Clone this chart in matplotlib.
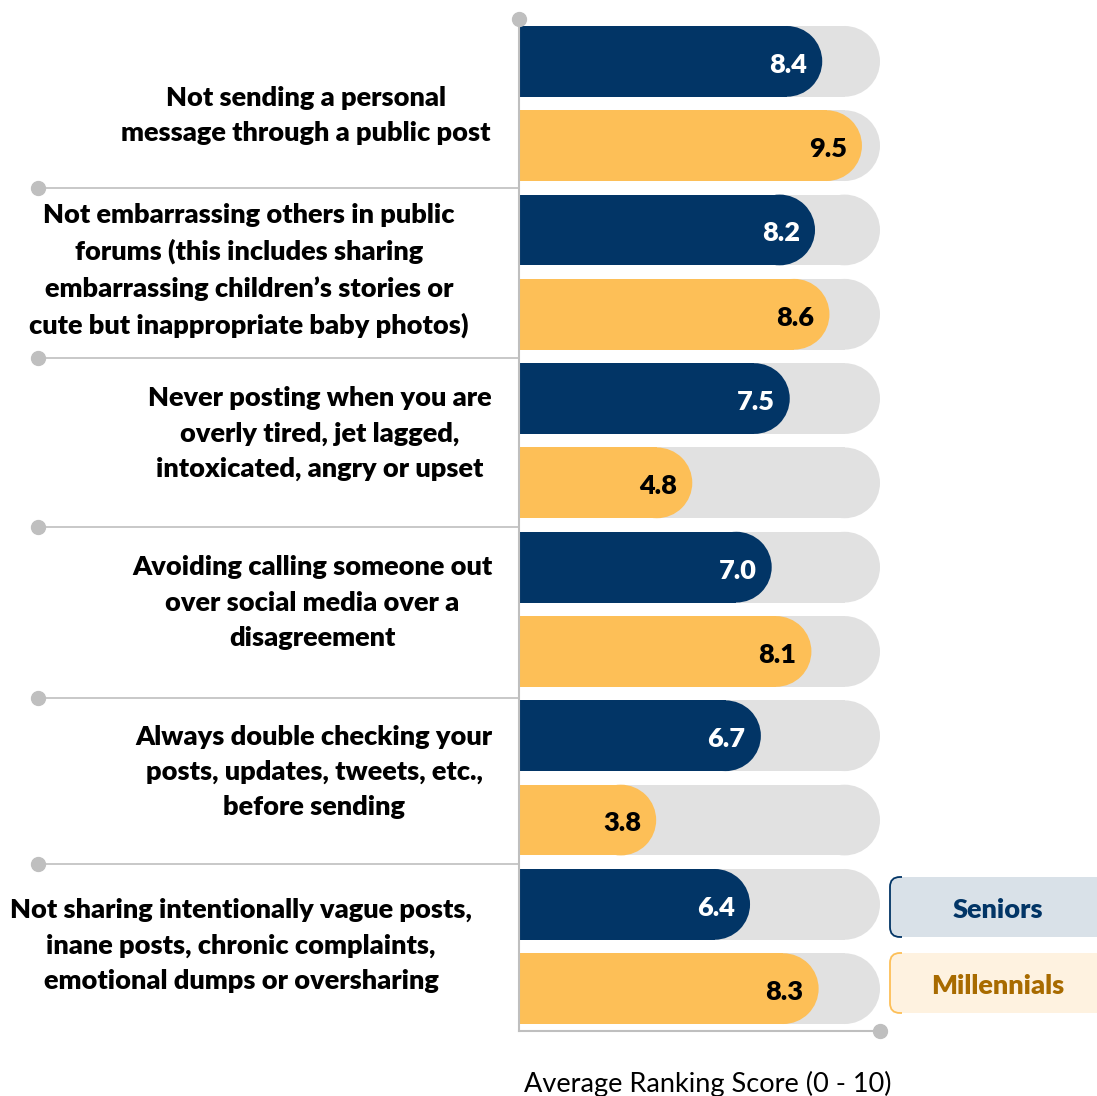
import matplotlib
matplotlib.use("Agg")
import matplotlib.pyplot as plt
from matplotlib.patches import Ellipse, FancyBboxPatch, Rectangle

# ---------------- data ----------------
categories = [
    "Not sending a personal\nmessage through a public post",
    "Not embarrassing others in public\nforums (this includes sharing\nembarrassing children\u2019s stories or\ncute but inappropriate baby photos)",
    "Never posting when you are\noverly tired, jet lagged,\nintoxicated, angry or upset",
    "Avoiding calling someone out\nover social media over a\ndisagreement",
    "Always double checking your\nposts, updates, tweets, etc.,\nbefore sending",
    "Not sharing intentionally vague posts,\ninane posts, chronic complaints,\nemotional dumps or oversharing",
]
seniors = [8.4, 8.2, 7.5, 7.0, 6.7, 6.4]
millennials = [9.5, 8.6, 4.8, 8.1, 3.8, 8.3]
series_names = ["Seniors", "Millennials"]
x_label = "Average Ranking Score (0 - 10)"
x_max = 10

# ---------------- style / layout ----------------
NAVY = "#023566"
YELLOW = "#FDBF57"
TRACK = "#E1E1E1"
LINE = "#BFBFBF"
FONT = "Lato"
FS = 19.5
WEIGHT = "heavy"

W, H = 1097, 1096
fig = plt.figure(figsize=(W / 100, H / 100), dpi=100)

ax_left_px, ax_right_px = 519, 880
ax_top_px, ax_bot_px = 19.2, 1030.8
ax = fig.add_axes([ax_left_px / W, 1 - ax_bot_px / H,
                   (ax_right_px - ax_left_px) / W, (ax_bot_px - ax_top_px) / H])
ax.set_xlim(0, x_max)
ax.set_ylim(11.5, -0.5)
ax.axis("off")

bar_h = 0.839
px_per_x = (ax_right_px - ax_left_px) / x_max
px_per_y = (ax_bot_px - ax_top_px) / 12.0
rx = (bar_h / 2) * px_per_y / px_per_x  # cap radius in x units


def rounded_bar(y, val, color, z):
    ax.barh([y], [val - rx], height=bar_h, left=0, color=color, zorder=z, linewidth=0)
    ax.add_patch(Ellipse((val - rx, y), 2 * rx, bar_h, facecolor=color,
                         edgecolor="none", zorder=z))


label_x_px = [306, 249, 320, 312, 314, 241]
label_y_off = [0.14, -0.02, -0.08, -0.08, -0.07, -0.01]
sep_y_off = [0.0, 0.02, 0.02, 0.05, 0.02]

for i in range(len(categories)):
    ys = 2 * i
    ym = 2 * i + 1
    for y, v, c, tc in [(ys, seniors[i], NAVY, "white"), (ym, millennials[i], YELLOW, "black")]:
        rounded_bar(y, x_max, TRACK, 1)
        rounded_bar(y, v, c, 2)
        ax.text(v - 0.95, y + 0.04, f"{v:.1f}", ha="center", va="center",
                color=tc, fontsize=FS, fontweight=WEIGHT, family=FONT, zorder=3)
    # category label
    lx = (label_x_px[i] - ax_left_px) / px_per_x
    ax.text(lx, 2 * i + 0.5 + label_y_off[i], categories[i], ha="center", va="center",
            fontsize=FS, fontweight=WEIGHT, family=FONT, linespacing=1.56,
            clip_on=False, zorder=3)

# separators with dots
dot_x = (38 - ax_left_px) / px_per_x
for k in range(1, len(categories)):
    yy = 2 * k - 0.5 + sep_y_off[k - 1]
    ax.plot([dot_x, 0], [yy, yy], color=LINE, lw=1.2, clip_on=False, zorder=0)
    ax.plot([dot_x], [yy], "o", color=LINE, ms=10, clip_on=False, zorder=0)

# vertical axis line + top dot, bottom axis line + end dot
ax.plot([0, 0], [-0.5, 11.5], color=LINE, lw=1.5, clip_on=False, zorder=4)
ax.plot([0], [-0.5], "o", color=LINE, ms=10, clip_on=False, zorder=4)
ax.plot([0, x_max], [11.5, 11.5], color=LINE, lw=1.5, clip_on=False, zorder=4)
ax.plot([x_max], [11.5], "o", color=LINE, ms=10, clip_on=False, zorder=4)

# x label
fig.text(708 / W, 1 - 1084 / H, x_label, ha="center", va="center",
         fontsize=FS, family=FONT, color="black")

# legend boxes
leg = [
    (series_names[0], 877, 937, "#D9E1E8", NAVY, NAVY),
    (series_names[1], 953, 1013, "#FEF2E0", YELLOW, "#A86B00"),
]
for name, top, bot, fc, ec, tc in leg:
    x0, x1 = 890, 1120
    b = FancyBboxPatch((x0 / W, 1 - bot / H), (x1 - x0) / W, (bot - top) / H,
                       boxstyle="round,pad=0,rounding_size=0.009",
                       transform=fig.transFigure, facecolor=fc, edgecolor="none",
                       zorder=1)
    fig.add_artist(b)
    b2 = FancyBboxPatch((x0 / W, 1 - bot / H), (x1 - x0) / W, (bot - top) / H,
                        boxstyle="round,pad=0,rounding_size=0.009",
                        transform=fig.transFigure, facecolor="none", edgecolor=ec,
                        lw=1.3, zorder=2)
    fig.add_artist(b2)
    clip = Rectangle((880 / W, 1 - (bot + 5) / H), 22 / W, (bot - top + 10) / H,
                     transform=fig.transFigure, visible=False)
    fig.add_artist(clip)
    b2.set_clip_path(clip)
    fig.text(998 / W, 1 - ((top + bot) / 2 + 3) / H, name, ha="center", va="center",
             fontsize=FS, fontweight=WEIGHT, family=FONT, color=tc, zorder=3)

fig.savefig("out.png", dpi=100)
